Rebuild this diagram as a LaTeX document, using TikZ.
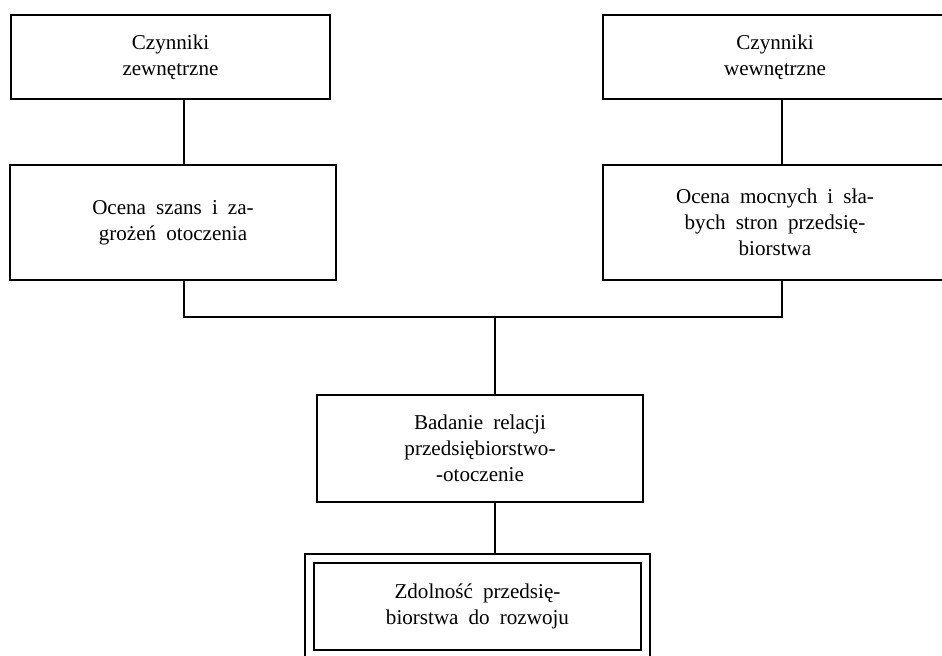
\documentclass[tikz,border=0pt]{standalone}
\usepackage{fontspec}
\setmainfont{Liberation Serif}
\usetikzlibrary{positioning,calc,fit}

\begin{document}
\begin{tikzpicture}[
  blok/.style={draw, line width=1.6pt, align=center, inner sep=0pt, font=\fontsize{15}{18.5}\selectfont,
    execute at begin node={\spaceskip=0.48em\relax}},
  laczenie/.style={line width=1.2pt}]
\useasboundingbox (0,0) rectangle (23.55,-16.4);
\clip (0,0) rectangle (23.55,-16.4);

\node[blok, minimum width=7.975cm, minimum height=2.1cm]   (zew)    at (4.2625,-1.425)   {Czynniki\\zewnętrzne};
\node[blok, minimum width=8.15cm,  minimum height=2.875cm] (szanse) at (4.325,-5.5625)   {Ocena szans i za-\\grożeń otoczenia};
\node[blok, minimum width=8.6cm,   minimum height=2.1cm]   (wew)    at (19.375,-1.425)   {Czynniki\\wewnętrzne};
\node[blok, minimum width=8.6cm,   minimum height=2.875cm] (mocne)  at (19.375,-5.5625)  {Ocena mocnych i sła-\\bych stron przedsię-\\biorstwa};
\node[blok, minimum width=8.15cm,  minimum height=2.675cm] (badanie) at (12.0,-11.2125)  {Badanie relacji\\przedsiębiorstwo-\\-otoczenie};
\node[blok, minimum width=8.175cm, minimum height=2.175cm] (zdol)   at (11.9375,-15.1625) {Zdolność przedsię-\\biorstwa do rozwoju};
\node[draw, line width=1.6pt, inner sep=0.2cm, fit=(zdol)] (zdolram) {};

\coordinate (wezel) at (12.375,-7.925);

\draw[laczenie] ($(zew.south)+(0.3375,0)$) -- ($(szanse.north)+(0.275,0)$);
\draw[laczenie] ($(wew.south)+(0.175,0)$) -- ($(mocne.north)+(0.175,0)$);
\draw[laczenie] ($(szanse.south)+(0.275,0)$) |- (wezel) -| ($(mocne.south)+(0.175,0)$);
\draw[laczenie] (wezel) -- (wezel |- badanie.north);
\draw[laczenie] (badanie.south -| wezel) -- (wezel |- zdolram.north);
\end{tikzpicture}
\end{document}
